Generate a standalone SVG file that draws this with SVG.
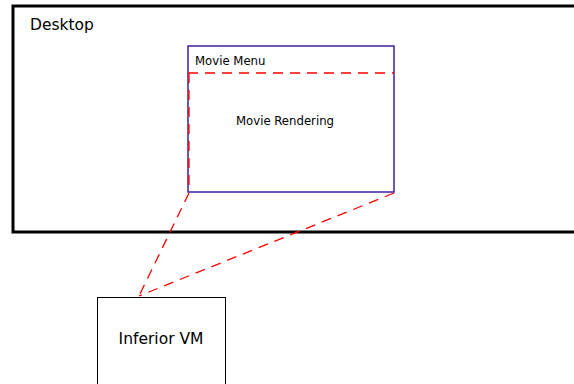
<svg xmlns="http://www.w3.org/2000/svg" width="574" height="384" viewBox="0 0 574 384">
<style>
.t{font-family:"DejaVu Sans","Liberation Sans",sans-serif;fill:#000}
.c{font-stretch:condensed;font-family:"DejaVu Sans Condensed","DejaVu Sans",sans-serif;font-size:13px}
.dash{stroke:#ff0000;stroke-width:1.3;stroke-dasharray:10,7;fill:none}
</style>
<rect width="574" height="384" fill="#fff"/>
<g id="desktop">
<rect x="13" y="6" width="580" height="226" fill="none" stroke="#000" stroke-width="3"/>
<text class="t" x="30" y="30" font-size="15.5">Desktop</text>
</g>
<g id="movie">
<rect x="188" y="46" width="206" height="146" fill="#fff" stroke="#3f1f9f" stroke-width="1.5"/>
<text class="t c" x="195" y="65">Movie Menu</text>
<text class="t c" x="285" y="125" text-anchor="middle">Movie Rendering</text>
</g>
<g id="inferior">
<rect x="97.5" y="297.5" width="128" height="100" fill="#fff" stroke="#000" stroke-width="1"/>
<text class="t" x="161" y="344" font-size="15.5" text-anchor="middle">Inferior VM</text>
</g>
<g id="connectors">
<line class="dash" x1="188" y1="73" x2="394" y2="73"/>
<line class="dash" x1="189" y1="73" x2="189" y2="192"/>
<line class="dash" x1="189" y1="193" x2="139" y2="296"/>
<line class="dash" x1="394" y1="193" x2="139" y2="296"/>
</g>
</svg>
